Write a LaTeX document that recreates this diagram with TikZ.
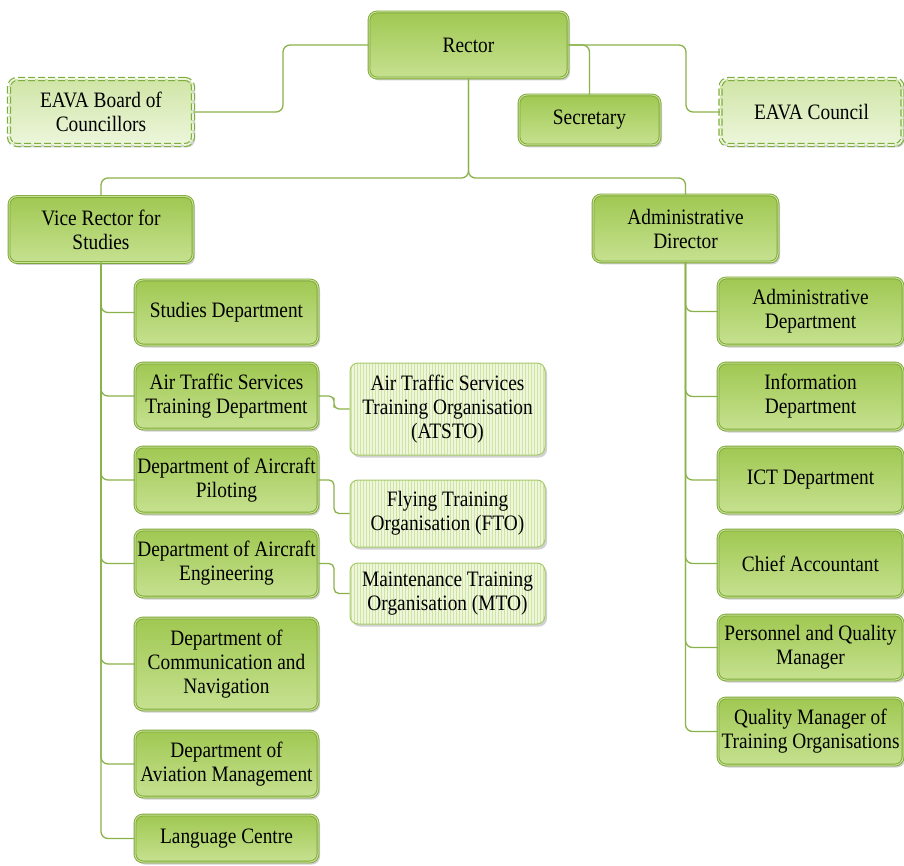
\documentclass[tikz,border=0pt]{standalone}
\usepackage{fontspec}
\setmainfont{Liberation Serif}[FakeStretch=0.88]
\usetikzlibrary{shadows,patterns,calc}
\definecolor{boxA}{HTML}{A0C852}
\definecolor{boxB}{HTML}{C6E190}
\definecolor{boxLine}{HTML}{7FA83A}
\definecolor{boxInner}{HTML}{C8E294}
\definecolor{lineC}{HTML}{8AB24A}
\definecolor{dashLine}{HTML}{7EAE40}
\definecolor{dashA}{HTML}{D0E5A6}
\definecolor{dashB}{HTML}{EDF6DC}
\definecolor{orgFill}{HTML}{EEF6DC}
\definecolor{orgStripe}{HTML}{CFE4A2}
\definecolor{orgLine}{HTML}{A6CA6C}
\tikzset{
  every node/.style={font=\fontsize{22}{24}\selectfont, align=center, inner sep=2pt},
  shad/.style={drop shadow={shadow xshift=2pt, shadow yshift=-2.5pt, fill=black, opacity=0.18}},
  gbox/.style={shape=rectangle, rounded corners=8pt, shad, draw=boxLine, line width=0.9pt,
    double=boxInner, double distance=1pt, top color=boxA, bottom color=boxB},
  dbox/.style={shape=rectangle, rounded corners=8pt, shad, draw=dashLine, line width=1.2pt,
    dash pattern=on 7pt off 3pt, double=dashB, double distance=1.8pt, top color=dashA, bottom color=dashB},
  obox/.style={shape=rectangle, rounded corners=8pt, shad, preaction={fill=orgFill},
    pattern=vertical lines, pattern color=orgStripe, draw=orgLine, line width=1pt},
  conn/.style={draw=lineC, line width=1.3pt, rounded corners=7pt},
}
\begin{document}
\begin{tikzpicture}[x=1pt,y=-1pt]
\useasboundingbox (0,0) rectangle (904,866);
% top level
\node[gbox, minimum width=199pt, minimum height=66pt] (rector) at (468.5,45) {Rector};
\node[dbox, minimum width=184pt, minimum height=66pt] (board) at (101,112) {EAVA Board of\\Councillors};
\node[gbox, minimum width=141pt, minimum height=50pt] (secr) at (589.5,120) {Secretary};
\node[dbox, minimum width=182pt, minimum height=66pt] (council) at (811.5,112) {EAVA Council};
\node[gbox, minimum width=184pt, minimum height=66pt] (vr) at (101,229.5) {Vice Rector for\\Studies};
\node[gbox, minimum width=185pt, minimum height=67pt] (ad) at (685.5,228.5) {Administrative\\Director};
% left children
\node[gbox, minimum width=183pt, minimum height=65pt] (studies) at (226.5,312.5) {Studies Department};
\node[gbox, minimum width=183pt, minimum height=66pt] (atsd) at (226.5,396) {Air Traffic Services\\Training Department};
\node[gbox, minimum width=183pt, minimum height=66pt] (pilot) at (226.5,480) {Department of Aircraft\\Piloting};
\node[gbox, minimum width=183pt, minimum height=67pt] (engin) at (226.5,563.5) {Department of Aircraft\\Engineering};
\node[gbox, minimum width=183pt, minimum height=92pt] (comnav) at (226.5,664) {Department of\\Communication and\\Navigation};
\node[gbox, minimum width=183pt, minimum height=66pt] (avman) at (226.5,764) {Department of\\Aviation Management};
\node[gbox, minimum width=183pt, minimum height=47pt] (lang) at (226.5,838.5) {Language Centre};
% organisations
\node[obox, minimum width=195pt, minimum height=92pt] (atsto) at (447.5,409) {Air Traffic Services\\Training Organisation\\(ATSTO)};
\node[obox, minimum width=195pt, minimum height=67pt] (fto) at (447.5,513.5) {Flying Training\\Organisation (FTO)};
\node[obox, minimum width=195pt, minimum height=61pt] (mto) at (447.5,593.5) {Maintenance Training\\Organisation (MTO)};
% right children
\node[gbox, minimum width=185pt, minimum height=67pt] (adep) at (810.5,311.5) {Administrative\\Department};
\node[gbox, minimum width=185pt, minimum height=67pt] (info) at (810.5,396.5) {Information\\Department};
\node[gbox, minimum width=185pt, minimum height=66pt] (ict) at (810.5,480) {ICT Department};
\node[gbox, minimum width=185pt, minimum height=67pt] (chief) at (810.5,563.5) {Chief Accountant};
\node[gbox, minimum width=185pt, minimum height=65pt] (pers) at (810.5,647.5) {Personnel and Quality\\Manager};
\node[gbox, minimum width=185pt, minimum height=67pt] (qm) at (810.5,731.5) {Quality Manager of\\Training Organisations};
% coordinates
\coordinate (split) at (468.5,178);
\coordinate (lx) at (283,80);
\coordinate (rx) at (686,80);
% connectors
\draw[conn] (rector.west) -| (lx) |- (board.east);
\draw[conn] (rector.east) -| (rx) |- (council.west);
\draw[conn] (secr.north) |- (rector.east);
\draw[conn] (rector.south) -- (split) -| (vr.north);
\draw[conn] (rector.south) -- (split) -| (ad.north);
\foreach \c in {studies,atsd,pilot,engin,comnav,avman,lang}
  \draw[conn] (vr.south) |- (\c.west);
\foreach \c in {adep,info,ict,chief,pers,qm}
  \draw[conn] (ad.south) |- (\c.west);
\draw[conn, rounded corners=5pt] (atsd.east) -| ($(atsd.east)!0.5!(atsto.west)$) |- (atsto.west);
\draw[conn, rounded corners=5pt] (pilot.east) -| ($(pilot.east)!0.5!(fto.west)$) |- (fto.west);
\draw[conn, rounded corners=5pt] (engin.east) -| ($(engin.east)!0.5!(mto.west)$) |- (mto.west);
\end{tikzpicture}
\end{document}
